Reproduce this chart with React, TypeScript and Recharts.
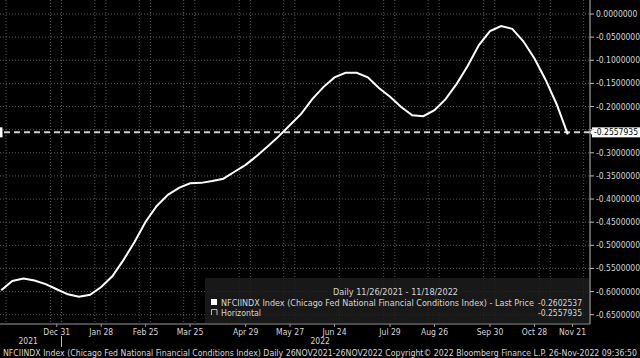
import {
  LineChart,
  Line,
  XAxis,
  YAxis,
  CartesianGrid,
  ReferenceLine,
} from 'recharts';

// weekly NFCI readings, Fridays from 26 Nov 2021 to 18 Nov 2022
const DATES = [
  '2021-11-26', '2021-12-03', '2021-12-10', '2021-12-17', '2021-12-24', '2021-12-31',
  '2022-01-07', '2022-01-14', '2022-01-21', '2022-01-28',
  '2022-02-04', '2022-02-11', '2022-02-18', '2022-02-25',
  '2022-03-04', '2022-03-11', '2022-03-18', '2022-03-25',
  '2022-04-01', '2022-04-08', '2022-04-15', '2022-04-22', '2022-04-29',
  '2022-05-06', '2022-05-13', '2022-05-20', '2022-05-27',
  '2022-06-03', '2022-06-10', '2022-06-17', '2022-06-24',
  '2022-07-01', '2022-07-08', '2022-07-15', '2022-07-22', '2022-07-29',
  '2022-08-05', '2022-08-12', '2022-08-19', '2022-08-26',
  '2022-09-02', '2022-09-09', '2022-09-16', '2022-09-23', '2022-09-30',
  '2022-10-07', '2022-10-14', '2022-10-21', '2022-10-28',
  '2022-11-04', '2022-11-11', '2022-11-18',
];

const NFCI = [
  -0.597, -0.577, -0.572, -0.576, -0.584, -0.595,
  -0.606, -0.611, -0.607, -0.59,
  -0.567, -0.532, -0.493, -0.449,
  -0.415, -0.391, -0.376, -0.366,
  -0.365, -0.361, -0.356, -0.341, -0.326,
  -0.307, -0.286, -0.264, -0.24,
  -0.216, -0.184, -0.158, -0.137,
  -0.127, -0.127, -0.137, -0.16, -0.179,
  -0.201, -0.219, -0.221, -0.208,
  -0.184, -0.151, -0.112, -0.067, -0.037,
  -0.026, -0.032, -0.059, -0.096,
  -0.142, -0.195, -0.2602537,
];

const LAST_PRICE = -0.2602537;
const HORIZONTAL = -0.2557935;

const TICK_DATES = [
  '2021-12-31', '2022-01-28', '2022-02-25', '2022-03-25', '2022-04-29', '2022-05-27',
  '2022-06-24', '2022-07-29', '2022-08-26', '2022-09-30', '2022-10-28', '2022-11-21',
];

const GRID_DATES = [
  '2021-11-29', '2021-12-27', '2022-01-03', '2022-01-24', '2022-01-31',
  '2022-02-21', '2022-02-28', '2022-03-21', '2022-03-28', '2022-04-25',
  '2022-05-02', '2022-05-23', '2022-05-30', '2022-06-27', '2022-07-25',
  '2022-08-01', '2022-08-22', '2022-08-29', '2022-09-26', '2022-10-03',
  '2022-10-31', '2022-11-07', '2022-11-28',
];

const YEAR_LABELS = [
  { date: '2021-12-13', label: '2021' },
  { date: '2022-01-03', label: '|' },
  { date: '2022-06-15', label: '2022' },
];

const Y_TICKS = [
  0, -0.05, -0.1, -0.15, -0.2, -0.25, -0.3, -0.35, -0.4, -0.45, -0.5, -0.55, -0.6, -0.65,
];

const MONTHS = ['Jan', 'Feb', 'Mar', 'Apr', 'May', 'Jun', 'Jul', 'Aug', 'Sep', 'Oct', 'Nov', 'Dec'];
const DAY = 86400000;
const toTime = (d: string) => Date.parse(d + 'T00:00:00Z');

const data = DATES.map((d, i) => ({ t: toTime(d), value: NFCI[i] }));
const t0 = toTime(DATES[0]);
const X_DOMAIN = [t0 - 0.76 * DAY, t0 + 371 * DAY];

const FONT = '"Liberation Sans Narrow", "DejaVu Sans Condensed", "Liberation Sans", Arial, sans-serif';
const TEXT = '#d6d6d6';

const fmtDate = (t: number) => {
  const d = new Date(t);
  return `${MONTHS[d.getUTCMonth()]} ${d.getUTCDate()}`;
};

// the -0.25 label sits under the horizontal-line value box
const fmtValue = (v: number) => (Math.abs(v + 0.25) < 1e-9 ? '' : v.toFixed(7));

function YearTick(props: any) {
  const { x, y, payload } = props;
  const item = YEAR_LABELS.find((it) => toTime(it.date) === payload.value);
  if (!item) return null;
  if (item.label === '|') {
    return <line x1={x} x2={x} y1={y - 8} y2={y + 3} stroke="#bdbdbd" strokeWidth={1} />;
  }
  return (
    <text x={x} y={y} dy={0} textAnchor="middle" fill={TEXT} fontSize={8.5} fontFamily={FONT}>
      {item.label}
    </text>
  );
}

function HorizontalLabel(props: any) {
  const vb = props.viewBox;
  if (!vb) return null;
  const right = vb.x + vb.width;
  const y = vb.y;
  return (
    <g>
      <rect x={vb.x} y={y - 5} width={2.5} height={10} fill="#ffffff" />
      <polygon points={`${right},${y} ${right + 3},${y - 4} ${right + 3},${y + 4}`} fill="#ffffff" />
      <rect x={right + 2} y={y - 5} width={50} height={10} fill="#ffffff" />
      <text
        x={right + 4}
        y={y + 3}
        fill="#000000"
        fontSize={8.5}
        fontFamily={FONT}
        textLength={44}
        lengthAdjust="spacingAndGlyphs"
      >
        {HORIZONTAL.toFixed(7)}
      </text>
    </g>
  );
}

export default function App() {
  return (
    <div
      style={{
        position: 'absolute',
        left: 0,
        top: 0,
        width: 640,
        height: 358,
        background: '#000000',
        overflow: 'hidden',
      }}
    >
      <LineChart width={640} height={358} data={data} margin={{ top: 0, right: 0, left: 0, bottom: 0 }}>
        <CartesianGrid
          stroke="#5c5c5c"
          strokeDasharray="1 2"
          horizontalValues={Y_TICKS}
          verticalValues={GRID_DATES.map(toTime)}
        />
        <XAxis
          dataKey="t"
          type="number"
          scale="time"
          domain={X_DOMAIN}
          ticks={TICK_DATES.map(toTime)}
          tickFormatter={fmtDate}
          interval={0}
          height={12}
          stroke="#9a9a9a"
          tickSize={3}
          tickMargin={2}
          tick={{ fill: TEXT, fontSize: 8.5, fontFamily: FONT }}
          allowDataOverflow
        />
        <XAxis
          xAxisId="year"
          dataKey="t"
          type="number"
          domain={X_DOMAIN}
          ticks={YEAR_LABELS.map((it) => toTime(it.date))}
          interval={0}
          height={22}
          axisLine={false}
          tickLine={false}
          tick={<YearTick />}
          allowDataOverflow
        />
        <YAxis
          orientation="right"
          width={50}
          domain={[-0.6701, 0.0303]}
          ticks={Y_TICKS}
          tickFormatter={fmtValue}
          interval={0}
          stroke="#bdbdbd"
          tickSize={4}
          tickMargin={2}
          tick={{ fill: TEXT, fontSize: 8.5, fontFamily: FONT, textAnchor: 'start' }}
          allowDataOverflow
        />
        <ReferenceLine
          y={HORIZONTAL}
          stroke="#d0d0d0"
          strokeWidth={2}
          strokeDasharray="6 4"
          label={(p: any) => <HorizontalLabel {...p} />}
        />
        <Line
          type="linear"
          dataKey="value"
          stroke="#ffffff"
          strokeWidth={2}
          dot={false}
          activeDot={false}
          isAnimationActive={false}
        />
      </LineChart>

      <svg
        width={640}
        height={358}
        style={{ position: 'absolute', left: 0, top: 0, pointerEvents: 'none' }}
        fontFamily={FONT}
      >
        <rect x={205} y={278} width={384} height={45} fill="rgba(28,28,28,0.85)" />
        <text x={333} y={295} fill={TEXT} fontSize={8.5} textLength={125} lengthAdjust="spacingAndGlyphs">
          Daily 11/26/2021 - 11/18/2022
        </text>
        <rect x={211} y={299} width={6} height={6} fill="#ffffff" />
        <text x={221} y={305.5} fill={TEXT} fontSize={8.5} textLength={313} lengthAdjust="spacingAndGlyphs">
          NFCIINDX Index (Chicago Fed National Financial Conditions Index) - Last Price
        </text>
        <text x={582} y={305.5} fill={TEXT} fontSize={8.5} textAnchor="end">
          {LAST_PRICE.toFixed(7)}
        </text>
        <path d="M211.5,315 V309.5 H217 V315" fill="none" stroke="#bdbdbd" strokeWidth={1} />
        <text x={221} y={315.5} fill={TEXT} fontSize={8.5} textLength={40} lengthAdjust="spacingAndGlyphs">
          Horizontal
        </text>
        <text x={582} y={315.5} fill={TEXT} fontSize={8.5} textAnchor="end">
          {HORIZONTAL.toFixed(7)}
        </text>
        <text x={3} y={355.5} fill={TEXT} fontSize={8.5} textLength={634} lengthAdjust="spacingAndGlyphs">
          NFCIINDX Index (Chicago Fed National Financial Conditions Index)  Daily 26NOV2021-26NOV2022   Copyright© 2022 Bloomberg Finance L.P.   26-Nov-2022 09:36:50
        </text>
      </svg>
    </div>
  );
}
